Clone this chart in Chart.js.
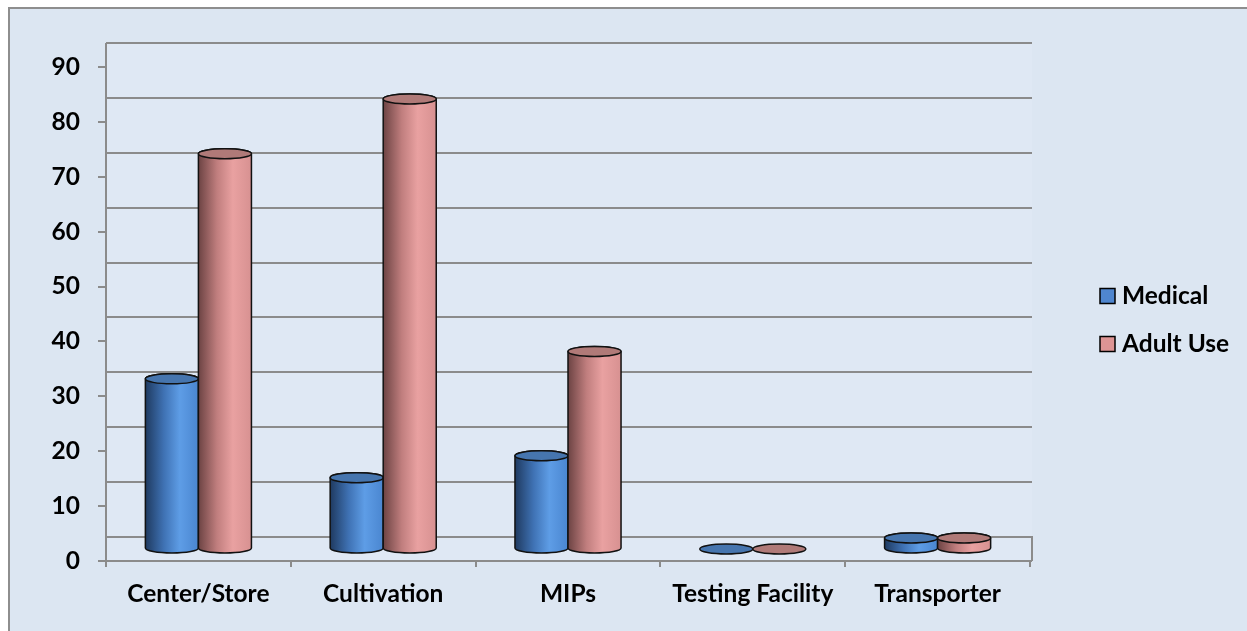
<!DOCTYPE html>
<html>
<head>
<meta charset="utf-8">
<script src="https://cdn.jsdelivr.net/npm/chart.js@4.4.1/dist/chart.umd.min.js"></script>
<style>
  html, body { margin: 0; padding: 0; background: #fff; overflow: hidden; }
  #frame { position: absolute; left: 8px; top: 7px; width: 1300px; height: 700px; border: 2px solid #8e8e8e; background: #dce6f2; }
  #wrap { position: absolute; left: 0; top: 0; width: 1247px; height: 631px; }
</style>
</head>
<body>
<div id="frame"></div>
<div id="wrap"><canvas id="chart" width="1247" height="631"></canvas></div>
<script>
const categories = ["Center/Store", "Cultivation", "MIPs", "Testing Facility", "Transporter"];
const seriesNames = ["Medical", "Adult Use"];
const medical = [31, 13, 17, 0, 2];
const adultUse = [72, 82, 36, 0, 2];
const yMax = 90;
const yStep = 10;

// cylinder look per series: gradient stops, top ellipse, legend swatch
const looks = [
  { stops: ["#1f3a60", "#3f72b4", "#5e9de6", "#4a86d0"], top: "#4675ae", swatch: "#4f86cf" },
  { stops: ["#6c4343", "#c07e7e", "#e9a1a1", "#d79191"], top: "#b07a78", swatch: "#dd9494" }
];
const DEPTH = 24;   // back wall offset
const RY = 5;       // ellipse half height
const FONT = "Lato";
const FSIZE = 24.5;

Chart.defaults.font.family = FONT;
Chart.defaults.font.weight = "bold";
Chart.defaults.color = "#000";

const wallPlugin = {
  id: "wall",
  beforeDatasetsDraw(chart) {
    const { ctx, chartArea: a, scales: { y } } = chart;
    const left = Math.round(a.left), right = Math.round(a.right) + 2;
    const top = Math.round(y.getPixelForValue(yMax) - DEPTH);
    const front = Math.round(y.getPixelForValue(0));
    ctx.save();
    ctx.fillStyle = "#dfe8f4";
    ctx.fillRect(left, top, right - left, front - top);
    ctx.strokeStyle = "#8b8b8b";
    ctx.lineWidth = 2;
    ctx.beginPath();
    y.ticks.forEach(t => {
      const yy = Math.round(y.getPixelForValue(t.value) - DEPTH);
      ctx.moveTo(left, yy);
      ctx.lineTo(right, yy);
    });
    // left wall, floor front edge, right floor edge
    ctx.moveTo(left, top);
    ctx.lineTo(left, front);
    ctx.moveTo(left, front);
    ctx.lineTo(right, front);
    ctx.moveTo(right, front);
    ctx.lineTo(right, Math.round(y.getPixelForValue(0) - DEPTH) - 1);
    ctx.stroke();
    ctx.restore();
  },
  afterDatasetsDraw(chart) {
    const ctx = chart.ctx;
    ctx.save();
    const n = chart.data.labels.length;
    for (let i = 0; i < n; i++) {
      chart.data.datasets.forEach((ds, d) => {
        const bar = chart.getDatasetMeta(d).data[i];
        const look = looks[d];
        const cx = bar.x, rx = bar.width / 2;
        const topY = bar.y - DEPTH / 2, botY = bar.base - DEPTH / 2;
        ctx.lineWidth = 1.5;
        ctx.strokeStyle = "#111";
        if (botY - topY > 0.5) {
          const g = ctx.createLinearGradient(cx - rx, 0, cx + rx, 0);
          g.addColorStop(0, look.stops[0]);
          g.addColorStop(0.35, look.stops[1]);
          g.addColorStop(0.65, look.stops[2]);
          g.addColorStop(1, look.stops[3]);
          ctx.beginPath();
          ctx.moveTo(cx - rx, topY);
          ctx.lineTo(cx - rx, botY);
          ctx.ellipse(cx, botY, rx, RY, 0, Math.PI, 0, true);
          ctx.lineTo(cx + rx, topY);
          ctx.ellipse(cx, topY, rx, RY, 0, 0, Math.PI, true);
          ctx.closePath();
          ctx.fillStyle = g;
          ctx.fill();
          ctx.stroke();
        }
        ctx.beginPath();
        ctx.ellipse(cx, topY, rx, RY, 0, 0, Math.PI * 2);
        ctx.fillStyle = look.top;
        ctx.fill();
        ctx.stroke();
      });
    }
    ctx.restore();
  },
  afterDraw(chart) {
    const ctx = chart.ctx;
    ctx.save();
    ctx.font = "bold " + FSIZE + "px " + FONT;
    ctx.textBaseline = "middle";
    chart.data.datasets.forEach((ds, d) => {
      const yy = 296 + d * 48;
      ctx.fillStyle = looks[d].swatch;
      ctx.fillRect(1100, yy - 7.5, 15, 15);
      ctx.lineWidth = 1.5;
      ctx.strokeStyle = "#000";
      ctx.strokeRect(1100, yy - 7.5, 15, 15);
      ctx.fillStyle = "#000";
      ctx.fillText(ds.label, 1122, yy);
    });
    ctx.restore();
  }
};

new Chart(document.getElementById("chart"), {
  type: "bar",
  plugins: [wallPlugin],
  data: {
    labels: categories,
    datasets: [
      { label: seriesNames[0], data: medical, backgroundColor: "rgba(0,0,0,0)", borderWidth: 0 },
      { label: seriesNames[1], data: adultUse, backgroundColor: "rgba(0,0,0,0)", borderWidth: 0 }
    ]
  },
  options: {
    responsive: false,
    animation: false,
    layout: { padding: { top: 67, right: 217, bottom: 0, left: 0 } },
    datasets: { bar: { barPercentage: 1, categoryPercentage: 0.574 } },
    plugins: { legend: { display: false }, tooltip: { enabled: false } },
    scales: {
      x: {
        afterFit: s => { s.height = 70; },
        border: { display: false },
        grid: { offset: true, drawOnChartArea: false, drawTicks: true, tickLength: 6, color: "#8b8b8b", lineWidth: 2 },
        ticks: { font: { size: FSIZE, weight: "bold" }, padding: 12, color: "#000" }
      },
      y: {
        min: 0,
        max: yMax,
        afterFit: s => { s.width = 106; },
        border: { display: false },
        grid: { drawOnChartArea: false, drawTicks: true, tickLength: 8, color: "#8b8b8b", lineWidth: 2 },
        ticks: { stepSize: yStep, font: { size: FSIZE, weight: "bold" }, padding: 18, color: "#000" }
      }
    }
  }
});
</script>
</body>
</html>
